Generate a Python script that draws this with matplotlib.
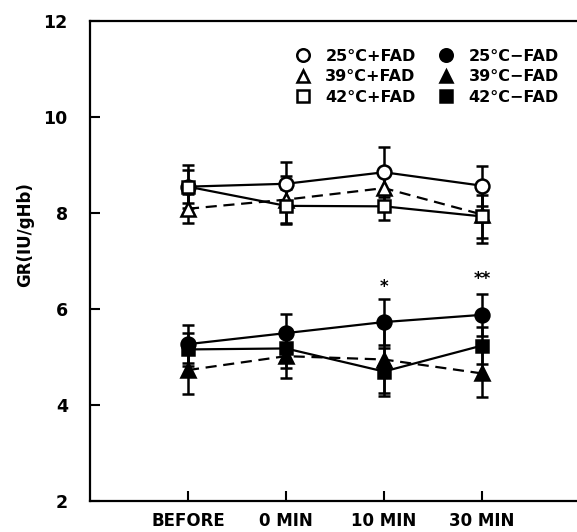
import matplotlib
matplotlib.use('Agg')
import matplotlib.pyplot as plt
from matplotlib.lines import Line2D

# time points
times = ['BEFORE', '0 MIN', '10 MIN', '30 MIN']
xpos = [1, 2, 3, 4]

# +FAD groups (open markers)
gr_25_plus = [8.55, 8.61, 8.85, 8.57]
err_25_plus = [0.45, 0.45, 0.52, 0.42]
gr_39_plus = [8.09, 8.28, 8.52, 7.97]
err_39_plus = [0.30, 0.50, 0.30, 0.60]
gr_42_plus = [8.55, 8.15, 8.14, 7.93]
err_42_plus = [0.35, 0.35, 0.28, 0.45]

# -FAD groups (filled markers)
gr_25_minus = [5.27, 5.50, 5.73, 5.88]
err_25_minus = [0.40, 0.40, 0.47, 0.44]
gr_39_minus = [4.73, 5.02, 4.95, 4.66]
err_39_minus = [0.50, 0.46, 0.70, 0.50]
gr_42_minus = [5.16, 5.18, 4.70, 5.24]
err_42_minus = [0.35, 0.40, 0.50, 0.38]

# significance marks
sig_x = [3, 4]
sig_y = [6.45, 6.62]
sig_txt = ['*', '**']

series = [
    (gr_25_plus, err_25_plus, 'o', 'white', '-', '25°C+FAD', 10),
    (gr_39_plus, err_39_plus, '^', 'white', '--', '39°C+FAD', 10),
    (gr_42_plus, err_42_plus, 's', 'white', '-', '42°C+FAD', 9),
    (gr_25_minus, err_25_minus, 'o', 'black', '-', '25°C\u2212FAD', 10),
    (gr_39_minus, err_39_minus, '^', 'black', '--', '39°C\u2212FAD', 10),
    (gr_42_minus, err_42_minus, 's', 'black', '-', '42°C\u2212FAD', 9),
]

plt.rcParams['font.family'] = 'DejaVu Sans'
plt.rcParams['font.weight'] = 'bold'

fig = plt.figure(figsize=(5.77, 5.32), dpi=100)
ax = fig.add_axes([0.156, 0.058, 0.844, 0.9025])

handles = []
for vals, errs, mk, fc, ls, lab, ms in series:
    ax.errorbar(xpos, vals, yerr=errs, color='black', marker=mk, mfc=fc, mec='black',
                mew=1.8, ms=ms, ls=ls, lw=1.6, elinewidth=1.8, capsize=4.5, capthick=1.8,
                dashes=(5, 3) if ls == '--' else (None, None))
    handles.append(Line2D([], [], marker=mk, mfc=fc, mec='black', mew=1.8, ms=ms - 1,
                          ls='none', color='black', label=lab))

for x, y, t in zip(sig_x, sig_y, sig_txt):
    ax.text(x, y, t, ha='center', va='center', fontsize=12, fontweight='bold')

ax.legend(handles=handles, ncol=2, frameon=False, loc='upper right',
          bbox_to_anchor=(0.982, 0.962), prop={'weight': 'bold', 'size': 11.5},
          handlelength=0.8, handletextpad=1.0, columnspacing=1.5, labelspacing=0.35,
          borderaxespad=0.2)

ax.set_xlim(0, 4.97)
ax.set_ylim(2, 12)
ax.set_xticks(xpos)
ax.set_xticklabels(times)
ax.set_yticks([2, 4, 6, 8, 10, 12])

ax.spines['right'].set_visible(False)
for s in ['left', 'bottom', 'top']:
    ax.spines[s].set_linewidth(1.6)

ax.tick_params(axis='y', direction='in', length=7, width=1.5, pad=16, labelsize=12.5)
ax.tick_params(axis='x', direction='in', length=7, width=1.5, pad=8, labelsize=12)
for lbl in ax.get_xticklabels() + ax.get_yticklabels():
    lbl.set_fontweight('bold')

ax.set_ylabel('GR(IU/gHb)', fontsize=12, fontweight='bold', labelpad=10)
ax.yaxis.set_label_coords(-0.115, 0.555)

fig.savefig('out.png', dpi=100)
